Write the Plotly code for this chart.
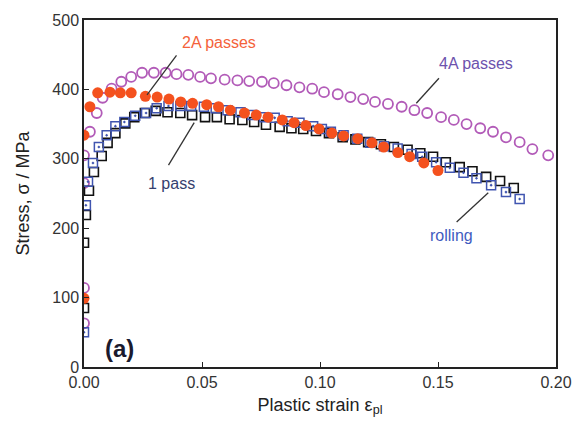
import plotly.graph_objects as go

# 4A passes (open purple circles)
strain_4a = [0, 0, 0, 0, 0.0025, 0.0054, 0.0079, 0.0117, 0.0158, 0.0200, 0.0246, 0.0296, 0.0346,
             0.0392, 0.0442, 0.0492, 0.0538, 0.0596, 0.0650, 0.0700, 0.0754, 0.0804, 0.0858,
             0.0913, 0.0967, 0.1017, 0.1075, 0.1129, 0.1183, 0.1233, 0.1288, 0.1346, 0.1400,
             0.1454, 0.1513, 0.1567, 0.1621, 0.1679, 0.1733, 0.1788, 0.1846, 0.1900, 0.1967]
stress_4a = [63, 114, 265, 305, 339, 366, 388, 401, 411, 418, 424, 424, 424,
             422, 421, 418, 416, 414, 413, 412, 411, 409, 406,
             403, 401, 396, 393, 389, 386, 382, 379, 375, 370,
             366, 360, 356, 350, 344, 339, 331, 324, 314, 305]

# 1 pass (open black squares)
strain_1p = [0, 0, 0.0008, 0.0021, 0.0042, 0.0075, 0.0100, 0.0133, 0.0175, 0.0213, 0.0258, 0.0304,
             0.0354, 0.0408, 0.0458, 0.0513, 0.0563, 0.0617, 0.0671, 0.0721, 0.0771, 0.0829,
             0.0879, 0.0929, 0.0983, 0.1038, 0.1096, 0.1150, 0.1204, 0.1258, 0.1313, 0.1371,
             0.1425, 0.1479, 0.1533, 0.1592, 0.1646, 0.1704, 0.1763, 0.1821]
stress_1p = [85, 179, 219, 254, 281, 304, 323, 337, 351, 360, 366, 369,
             367, 366, 363, 360, 360, 357, 356, 353, 349, 346,
             344, 343, 340, 337, 331, 328, 324, 321, 317, 313,
             308, 303, 295, 288, 282, 274, 268, 258]

# rolling (blue squares with dot)
strain_roll = [0, 0.0008, 0.0017, 0.0038, 0.0063, 0.0096, 0.0133, 0.0171, 0.0217, 0.0263, 0.0308,
               0.0358, 0.0408, 0.0454, 0.0508, 0.0558, 0.0608, 0.0663, 0.0713, 0.0763, 0.0808,
               0.0863, 0.0913, 0.0971, 0.1008, 0.1046, 0.1100, 0.1158, 0.1213, 0.1271, 0.1329,
               0.1388, 0.1433, 0.1492, 0.1550, 0.1608, 0.1663, 0.1725, 0.1788, 0.1846]
stress_roll = [50, 233, 267, 294, 317, 334, 347, 353, 362, 366, 373,
               376, 376, 376, 375, 373, 370, 367, 363, 360, 359,
               354, 352, 347, 343, 339, 334, 329, 323, 318, 315,
               307, 303, 295, 287, 280, 272, 262, 252, 242]

# 2A passes (filled orange-red circles)
strain_2a = [0, 0, 0.0025, 0.0058, 0.0110, 0.0154, 0.0200, 0.0260, 0.0310, 0.0360, 0.0410, 0.0460,
             0.0520, 0.0570, 0.0620, 0.0680, 0.0730, 0.0780, 0.0840, 0.0890, 0.0940, 0.0996,
             0.1050, 0.1100, 0.1160, 0.1220, 0.1270, 0.1330, 0.1380, 0.1440, 0.1500]
stress_2a = [99, 334, 375, 395, 396, 395, 395, 390, 389, 386, 382, 380,
             378, 375, 370, 366, 363, 360, 356, 352, 348, 343,
             337, 333, 329, 323, 317, 309, 303, 294, 283]

x_ticks = [0, 0.05, 0.10, 0.15, 0.20]
x_tick_labels = ["0.00", "0.05", "0.10", "0.15", "0.20"]
y_ticks = [0, 100, 200, 300, 400, 500]

FONT = "Liberation Sans, Arial, sans-serif"

fig = go.Figure()
fig.add_trace(go.Scatter(x=strain_4a, y=stress_4a, mode="markers", name="4A passes",
                         marker=dict(symbol="circle-open", size=10, color="#b25bb8",
                                     line=dict(width=1.8, color="#b25bb8"))))
fig.add_trace(go.Scatter(x=strain_1p, y=stress_1p, mode="markers", name="1 pass",
                         marker=dict(symbol="square-open", size=9, color="#111111",
                                     line=dict(width=1.6, color="#111111"))))
fig.add_trace(go.Scatter(x=strain_roll, y=stress_roll, mode="markers", name="rolling",
                         marker=dict(symbol="square-open-dot", size=9, color="#4055b0",
                                     line=dict(width=1.5, color="#4055b0"))))
fig.add_trace(go.Scatter(x=strain_2a, y=stress_2a, mode="markers", name="2A passes",
                         marker=dict(symbol="circle", size=11, color="#f4511e",
                                     line=dict(width=0))))

# leader lines for labels
leaders = [
    ((0.0392, 449), (0.0267, 392)),
    ((0.1504, 416), (0.1408, 380)),
    ((0.0467, 352), (0.0358, 291)),
    ((0.1713, 251), (0.1579, 209)),
]
for (x0, y0), (x1, y1) in leaders:
    fig.add_shape(type="line", xref="x", yref="y", x0=x0, y0=y0, x1=x1, y1=y1,
                  line=dict(color="#333333", width=1.3))

labels = [
    ("2A passes", 0.0570, 467, "#f4623a"),
    ("4A passes", 0.1663, 437, "#6c52ad"),
    ("1 pass", 0.0371, 265, "#34406e"),
    ("rolling", 0.1558, 190, "#3f5cc0"),
]
for txt, x, y, c in labels:
    fig.add_annotation(x=x, y=y, xref="x", yref="y", text=txt, showarrow=False,
                       font=dict(family=FONT, size=16, color=c))

fig.add_annotation(x=0.015, y=27, xref="x", yref="y", text="<b>(a)</b>", showarrow=False,
                   font=dict(family=FONT, size=24, color="#1a1a2e"))

fig.update_xaxes(range=[0, 0.20], tickvals=x_ticks, ticktext=x_tick_labels,
                 ticks="inside", ticklen=5, tickwidth=1.3, tickcolor="#222",
                 showline=True, linecolor="#222", linewidth=1.5, mirror=True,
                 showgrid=False, zeroline=False,
                 tickfont=dict(family=FONT, size=16, color="#333"),
                 title=dict(text="Plastic strain ε<sub>pl</sub>", standoff=8,
                            font=dict(family=FONT, size=18, color="#222")))
fig.update_yaxes(range=[0, 500], tickvals=y_ticks,
                 ticks="inside", ticklen=5, tickwidth=1.3, tickcolor="#222",
                 showline=True, linecolor="#222", linewidth=1.5, mirror=True,
                 showgrid=False, zeroline=False,
                 tickfont=dict(family=FONT, size=16, color="#333"),
                 title=dict(text="Stress, σ / MPa", standoff=18,
                            font=dict(family=FONT, size=18, color="#222")))

fig.update_layout(width=584, height=425, showlegend=False,
                  plot_bgcolor="white", paper_bgcolor="white",
                  margin=dict(l=84, r=18, t=20, b=58))

fig.write_html("out.html")
